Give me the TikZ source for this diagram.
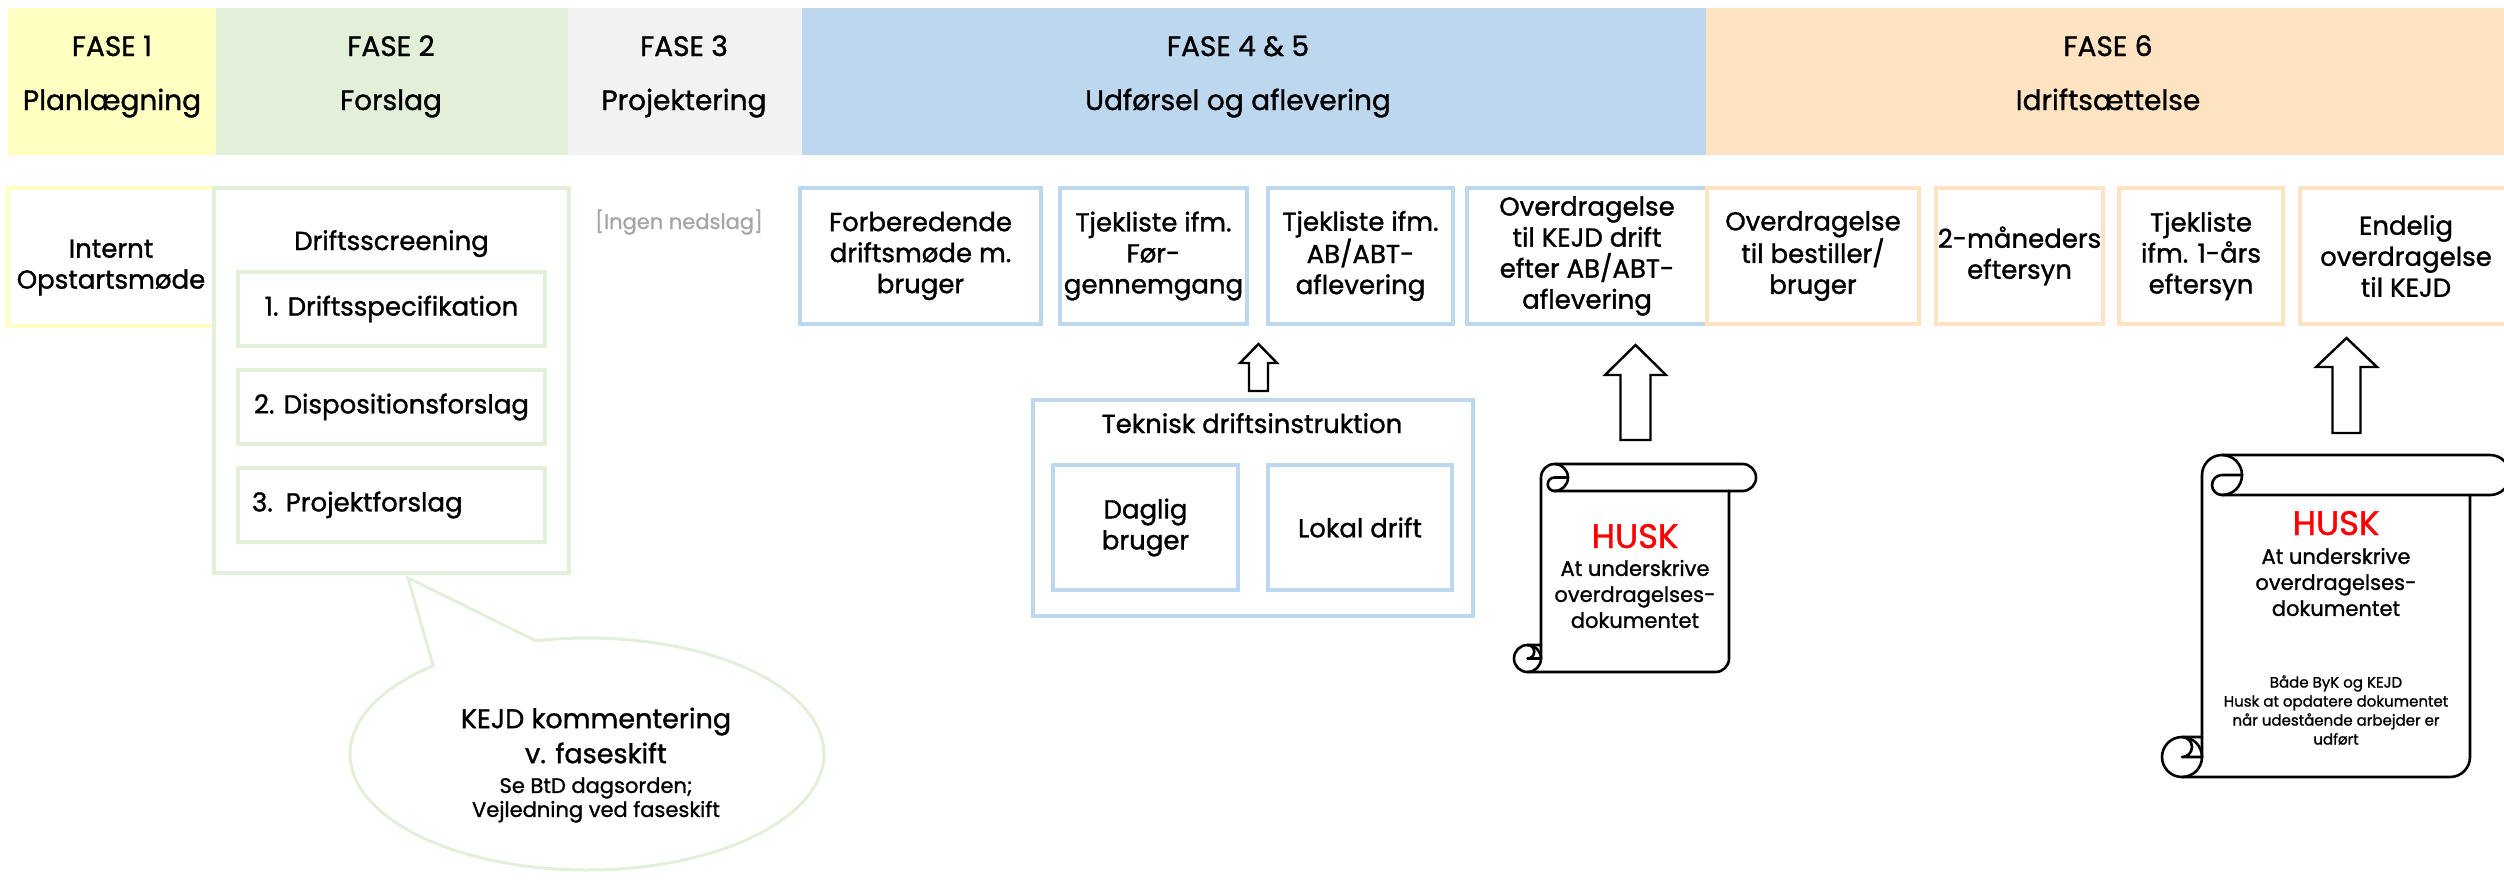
\documentclass[tikz,border=0pt]{standalone}
\usepackage{fontspec}
\setmainfont[FakeBold=1.2]{Poppins}
\usepackage{tikz}
\usetikzlibrary{shapes, shapes.callouts, calc}
\definecolor{yellowF}{HTML}{FFFFC2}
\definecolor{greenF}{HTML}{E2F0D9}
\definecolor{grayF}{HTML}{F2F2F2}
\definecolor{blueF}{HTML}{BDD7EE}
\definecolor{orangeF}{HTML}{FDE3C1}
\definecolor{grayT}{HTML}{A6A6A6}
\tikzstyle{hdr} = [font=\fontsize{28}{34}\selectfont, anchor=base, inner sep=0pt]
\tikzstyle{box} = [draw, line width=4pt, align=center, inner sep=2pt, font=\fontsize{26}{31}\selectfont]
\tikzstyle{mbox} = [box, execute at begin node={\rule{0pt}{30pt}}]
\tikzstyle{boxtxt} = [font=\fontsize{26}{31}\selectfont, anchor=base, inner sep=0pt]
\tikzstyle{blockarrow} = [draw=black, line width=2.4pt, fill=white, line join=miter]
\tikzstyle{scrollline} = [draw=black, line width=2.6pt, line cap=round, line join=round]
\tikzstyle{husk} = [font=\fontsize{34}{40}\selectfont, text=red, anchor=base, inner sep=0pt]
\tikzstyle{scrolltxt} = [font=\fontsize{21}{26}\selectfont, align=center, inner sep=0pt]
\tikzstyle{scrollsmall} = [font=\fontsize{15}{19}\selectfont, align=center, inner sep=0pt]

% L R T B r
\newcommand{\drawscroll}[5]{%
  \draw[scrollline] (#1,#4-#5) -- (#1,#3+#5) arc[start angle=180, end angle=270, radius=#5]
    -- (#2+#5,#3) arc[start angle=270, end angle=450, radius=#5] -- (#1+#5,#3+2*#5);
  \draw[scrollline] (#2,#3+2*#5) -- (#2,#4-#5) arc[start angle=0, end angle=90, radius=#5] -- (#1-#5,#4);
  % top curl
  \draw[scrollline] (#1+#5,#3) arc[start angle=-90, end angle=90, radius=#5];
  \draw[scrollline] (#1+2*#5,#3+#5) -- (#1+#5,#3+#5) arc[start angle=-90, end angle=-270, radius=#5/2];
  % bottom curl
  \draw[scrollline] (#1-#5,#4-#5) circle[radius=#5];
  \draw[scrollline] (#1,#4-#5) -- (#1-#5,#4-#5) arc[start angle=90, end angle=-90, radius=#5/2] -- (#1,#4-2*#5);
}

\begin{document}
\begin{tikzpicture}[x=1pt, y=-1pt]
            \useasboundingbox (0,0) rectangle (2504,884);
            \clip (0,0) rectangle (2504,884);

            % phase headers
            \fill[yellowF] (8,8) rectangle (216,155);
            \fill[greenF] (216,8) rectangle (568,155);
            \fill[grayF] (568,8) rectangle (802,155);
            \fill[blueF] (802,8) rectangle (1706,155);
            \fill[orangeF] (1706,8) rectangle (2504,155);

            \node[hdr] (f1a) at (112,56) {FASE 1};
            \node[hdr] (f1b) at (112,110) {Planlægning};
            \node[hdr] (f2a) at (391,56) {FASE 2};
            \node[hdr] (f2b) at (391,110) {Forslag};
            \node[hdr] (f3a) at (684,56) {FASE 3};
            \node[hdr] (f3b) at (684,110) {Projektering};
            \node[hdr] (f45a) at (1238,56) {FASE 4 \& 5};
            \node[hdr] (f45b) at (1238,110) {Udførsel og aflevering};
            \node[hdr] (f6a) at (2108,56) {FASE 6};
            \node[hdr] (f6b) at (2108,110) {Idriftsættelse};

            % fase 1 - 3
            \node[box, draw=yellowF, minimum width=206, minimum height=138, execute at begin node={\rule{0pt}{70pt}}] (internt) at (111,257) {Internt\\Opstartsmøde};

            \node[box, draw=greenF, minimum width=355, minimum height=385] (drift) at (391,380.5) {};
            \node[boxtxt] (drifttitle) at (391.5,250) {Driftsscreening};
            \node[box, draw=greenF, minimum width=307, minimum height=74] (spec) at (391.5,309) {1. Driftsspecifikation};
            \node[box, draw=greenF, minimum width=307, minimum height=74] (dispo) at (391.5,407) {2. Dispositionsforslag};
            \node[box, draw=greenF, minimum height=74, text width=279pt, align=left, inner xsep=14pt] (proj) at (391.5,505) {3. Projektforslag};

            \node[font=\fontsize{21}{25}\selectfont, text=grayT, anchor=base, inner sep=0pt] (ingen) at (679,229) {[Ingen nedslag]};

            % fase 4 & 5
            \node[mbox, draw=blueF, minimum width=241, minimum height=136] (forb) at (920.5,256) {Forberedende\\driftsmøde m.\\bruger};
            \node[mbox, draw=blueF, minimum width=187, minimum height=136] (tjek1) at (1153.5,256) {Tjekliste ifm.\\Før-\\gennemgang};
            \node[mbox, draw=blueF, minimum width=185, minimum height=136] (tjek2) at (1360.5,256) {Tjekliste ifm.\\AB/ABT-\\aflevering};
            \node[mbox, draw=blueF, minimum width=240, minimum height=136] (overkejd) at (1587,256) {Overdragelse\\til KEJD drift\\efter AB/ABT-\\aflevering};

            \node[box, draw=blueF, minimum width=440, minimum height=216] (tek) at (1253,508) {};
            \node[boxtxt] (tektitle) at (1252,433) {Teknisk driftsinstruktion};
            \node[mbox, draw=blueF, minimum width=185, minimum height=125] (daglig) at (1145.5,527.5) {Daglig\\bruger};
            \node[box, draw=blueF, minimum width=184, minimum height=125] (lokal) at (1360,527.5) {Lokal drift};

            % fase 6
            \node[mbox, draw=orangeF, minimum width=212, minimum height=136] (overbest) at (1813,256) {Overdragelse\\til bestiller/\\bruger};
            \node[mbox, draw=orangeF, minimum width=165, minimum height=136] (tomdr) at (2019.5,256) {2-måneders\\eftersyn};
            \node[mbox, draw=orangeF, minimum width=164, minimum height=136] (tjek3) at (2201,256) {Tjekliste\\ifm. 1-års\\eftersyn};
            \node[box, draw=orangeF, minimum width=212, minimum height=136] (endelig) at (2406,256) {Endelig\\overdragelse\\til KEJD};

            % block arrows
            \coordinate (tip1) at (1258.5,344);
            \coordinate (tip2) at (1635.5,345);
            \coordinate (tip3) at (2346.5,338);
            \draw[blockarrow] (tip1) -- ++(18.5,19) -- ++(-9,0) -- ++(0,28) -- ++(-19,0) -- ++(0,-28) -- ++(-9,0) -- cycle;
            \draw[blockarrow] (tip2) -- ++(30.5,30) -- ++(-15.5,0) -- ++(0,65) -- ++(-30,0) -- ++(0,-65) -- ++(-15.5,0) -- cycle;
            \draw[blockarrow] (tip3) -- ++(30.5,29) -- ++(-16.5,0) -- ++(0,66) -- ++(-28,0) -- ++(0,-66) -- ++(-16.5,0) -- cycle;

            % scrolls
            \drawscroll{1541}{1729}{464}{672}{13.5}
            \drawscroll{2202}{2470}{455}{777}{20}

            \node[husk] (husk1) at (1635,548) {HUSK};
            \node[scrolltxt] (husk1txt) at (1635,594) {At underskrive\\overdragelses-\\dokumentet};
            \node[husk] (husk2) at (2336,535) {HUSK};
            \node[scrolltxt] (husk2txt) at (2336,582) {At underskrive\\overdragelses-\\dokumentet};
            \node[scrollsmall] (husk2note) at (2336,710) {Både ByK og KEJD\\Husk at opdatere dokumentet\\når udestående arbejder er\\udført};

            % speech bubble
            \node[ellipse callout, draw=greenF, line width=3pt, minimum width=474, minimum height=232, callout pointer arc=28, callout absolute pointer={($(drift.south)+(17,3)$)}] (bubble) at (587,754) {};
            \node[font=\fontsize{27}{35}\selectfont, align=center, inner sep=0pt] (kejd1) at (596,735.5) {KEJD kommentering\\v. faseskift};
            \node[font=\fontsize{21}{24}\selectfont, align=center, inner sep=0pt] (kejd2) at (596,800) {Se BtD dagsorden;\\Vejledning ved faseskift};
\end{tikzpicture}
\end{document}
